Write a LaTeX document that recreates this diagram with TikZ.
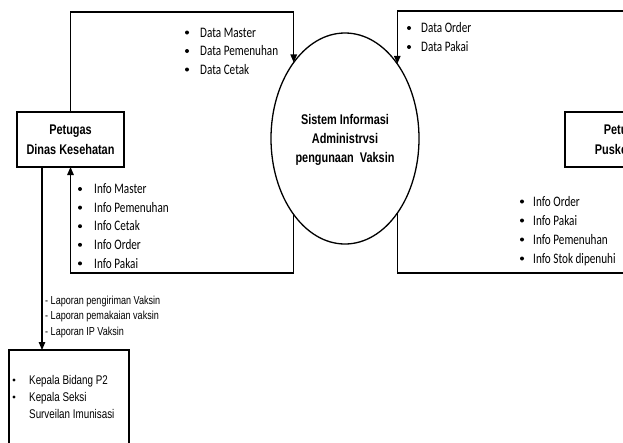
\documentclass[tikz,border=0pt]{standalone}
\usepackage{fontspec}
\newfontfamily\calib[FakeStretch=0.77]{Carlito}
\newfontfamily\arialn[FakeStretch=0.78]{Liberation Sans}
\usetikzlibrary{shapes.geometric,arrows.meta}
\begin{document}
\begin{tikzpicture}[x=1pt,y=-1pt,
  line/.style={line width=1.3pt, line join=miter},
  arr/.style={line, -{Triangle[length=8pt,width=6.5pt]}},
  box/.style={draw, line width=1.3pt, rectangle, inner sep=0pt, outer sep=0pt},
  lbl/.style={inner sep=0pt, anchor=base west, font=\calib\fontsize{14.5}{17}\selectfont},
  ttl/.style={inner sep=0pt, align=center, font=\arialn\bfseries\fontsize{14}{20}\selectfont},
  rep/.style={inner sep=0pt, anchor=base west, font=\arialn\fontsize{11.6}{15}\selectfont},
  kep/.style={inner sep=0pt, anchor=base west, font=\arialn\fontsize{12.6}{17}\selectfont},
  dot/.style={fill=black}
]
\useasboundingbox (0,0) rectangle (623,442);
\clip (0,0) rectangle (623,442);
\fill[white] (0,0) rectangle (623,442);

% nodes
\node[box, minimum width=107pt, minimum height=55pt, ttl] (dinas) at (70.5,139.5) {Petugas\\Dinas Kesehatan};
\node[box, minimum width=120pt, minimum height=55pt, ttl] (pusk) at (625,139.5) {Petugas\\Puskesmas};
\node[draw, ellipse, line width=1.3pt, minimum width=148pt, minimum height=211pt, inner sep=0pt, outer sep=0pt] (sys) at (345,138.5) {};
\node[ttl, font=\arialn\bfseries\fontsize{14}{19}\selectfont] (systxt) at (345,140) {Sistem Informasi\\Administrvsi\\pengunaan\ \ Vaksin};
\node[box, minimum width=120pt, minimum height=100pt] (kepala) at (69,400) {};

% helper coordinates
\coordinate (ytop) at (0,12);
\coordinate (ytop2) at (0,11);
\coordinate (ybot) at (0,273);
\coordinate (kx) at (42,0);

% connectors
\draw[arr] (dinas.north) -- (dinas.north |- ytop) -- (sys.124.73 |- ytop) -- (sys.124.73);
\draw[arr] ([xshift=20pt]pusk.north) -- ([xshift=20pt]pusk.north |- ytop2) -- (sys.55.27 |- ytop2) -- (sys.55.27);
\draw[arr] (sys.-55.27) -- (sys.-55.27 |- ybot) -- ([xshift=20pt]pusk.south |- ybot) -- ([xshift=20pt]pusk.south);
\draw[arr] (sys.-124.73) -- (sys.-124.73 |- ybot) -- (dinas.south |- ybot) -- (dinas.south);
\draw[arr] (dinas.south -| kx) -- (kepala.north -| kx);

% label lists
\foreach \t/\yy [count=\i] in {Data Master/32.5, Data Pemenuhan/51, Data Cetak/69.5} {
  \fill[dot] (187,\yy) circle (2pt);
  \node[lbl] (dm\i) at (200,\yy+4.7) {\t};
}
\foreach \t/\yy [count=\i] in {Data Order/28, Data Pakai/47} {
  \fill[dot] (409,\yy) circle (2pt);
  \node[lbl] (do\i) at (421,\yy+4.7) {\t};
}
\foreach \t/\yy [count=\i] in {Info Master/189, Info Pemenuhan/207.6, Info Cetak/226.2, Info Order/244.8, Info Pakai/263.4} {
  \fill[dot] (80,\yy) circle (2pt);
  \node[lbl] (im\i) at (94,\yy+4.7) {\t};
}
\foreach \t/\yy [count=\i] in {Info Order/201.5, Info Pakai/220.5, Info Pemenuhan/239.5, Info Stok dipenuhi/258.5} {
  \fill[dot] (522,\yy) circle (2pt);
  \node[lbl] (io\i) at (533,\yy+4.7) {\t};
}
\foreach \t/\yy [count=\i] in {- Laporan pengiriman Vaksin/300, - Laporan pemakaian vaksin/315.5, - Laporan IP Vaksin/331} {
  \node[rep] (lp\i) at (45,\yy+4.15) {\t};
}
\foreach \t/\yy [count=\i] in {Kepala Bidang P2/380, Kepala Seksi/397} {
  \fill[dot] (14,\yy) circle (1.7pt);
  \node[kep] (kp\i) at (29,\yy+4.5) {\t};
}
\node[kep] (kp3) at (29,414+4.5) {Surveilan Imunisasi};
\end{tikzpicture}
\end{document}
